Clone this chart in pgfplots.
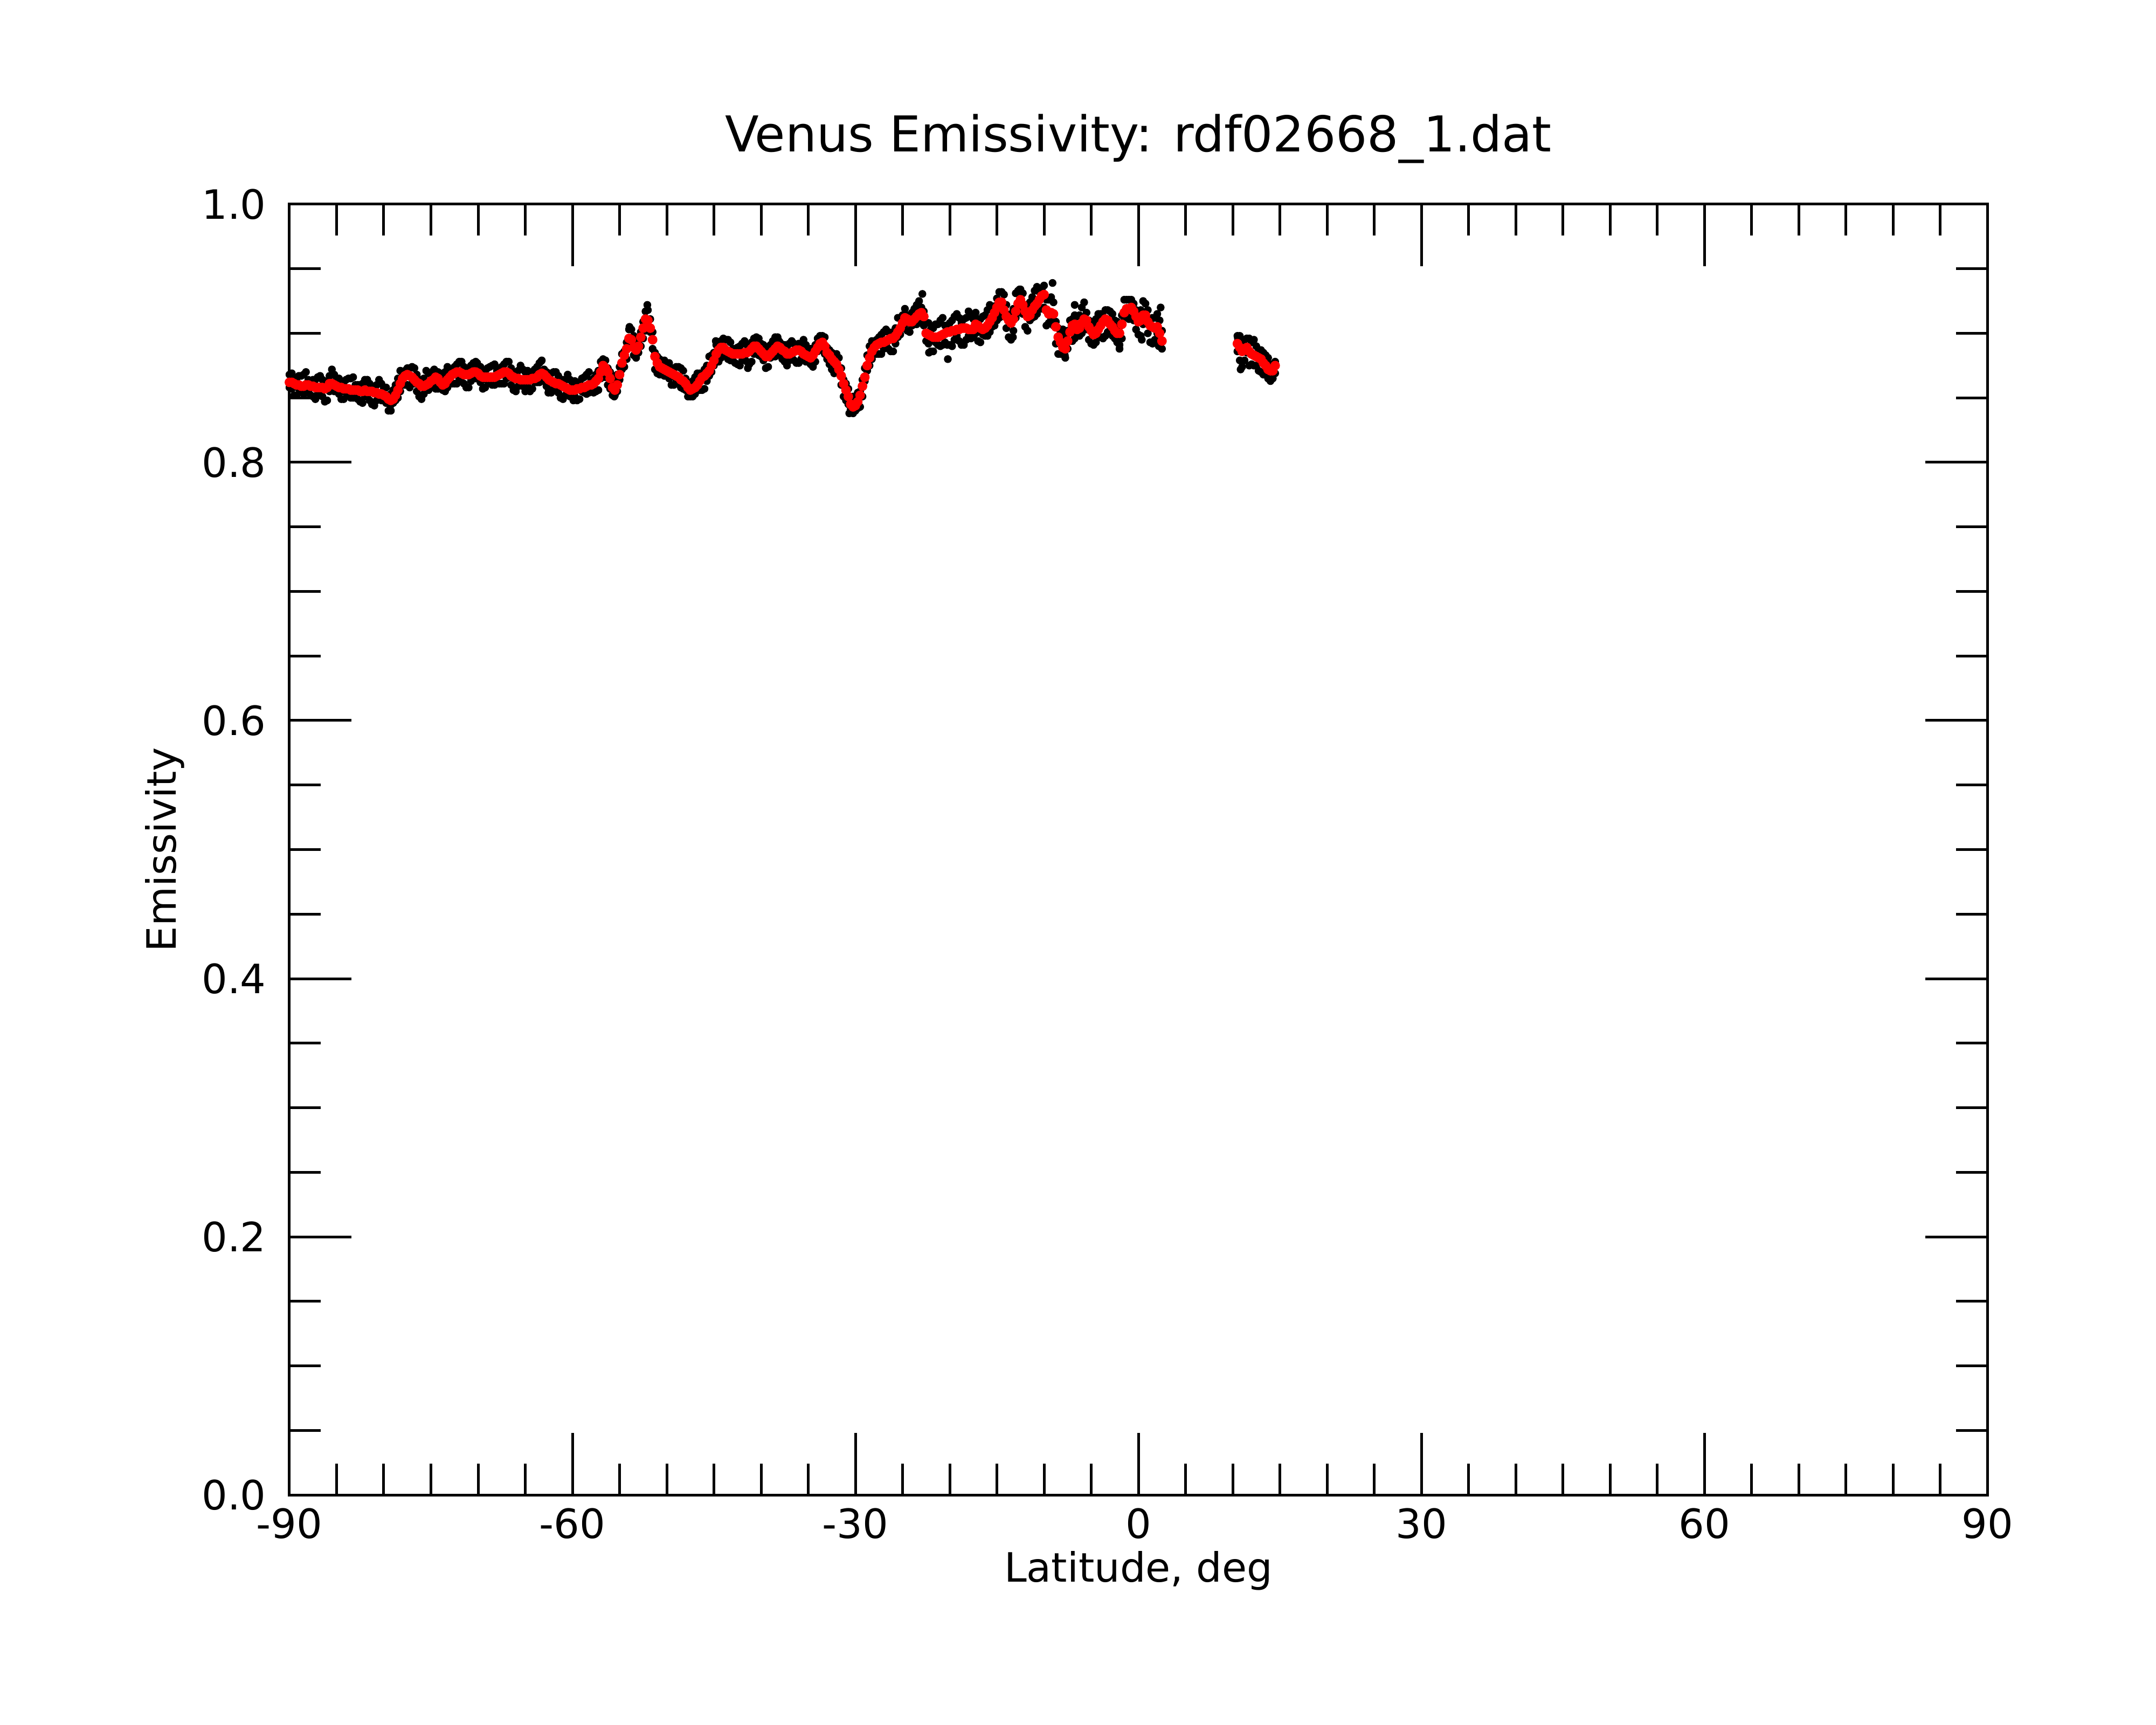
\documentclass[border=0pt]{standalone}
\usepackage{fontspec}
\setmainfont{DejaVu Sans}
\usepackage{pgfplots}
\pgfplotsset{compat=1.18}
\usepackage{pgfplotstable}
\pgfplotstableread{
lat red blk blkb
-90.00 0.862 0.868 0.858
-89.75 0.862 0.857 0.869
-89.50 0.861 0.864 0.852
-89.25 0.860 0.852 0.865
-89.00 0.860 0.867 0.857
-88.75 0.859 0.855 0.867
-88.50 0.859 0.868 0.853
-88.25 0.860 0.854 0.870
-88.00 0.860 0.864 0.855
-87.75 0.859 0.852 0.863
-87.50 0.859 0.864 0.851
-87.25 0.858 0.849 0.864
-87.00 0.858 0.866 0.853
-86.75 0.858 0.855 0.867
-86.50 0.858 0.864 0.851
-86.25 0.857 0.847 0.860
-86.00 0.858 0.863 0.848
-85.75 0.861 0.855 0.867
-85.50 0.861 0.872 0.857
-85.25 0.860 0.855 0.868
-85.00 0.859 0.865 0.855
-84.75 0.858 0.853 0.865
-84.50 0.858 0.861 0.849
-84.25 0.857 0.849 0.862
-84.00 0.857 0.864 0.854
-83.75 0.857 0.853 0.865
-83.50 0.856 0.865 0.850
-83.25 0.856 0.850 0.866
-83.00 0.856 0.860 0.851
-82.75 0.856 0.849 0.860
-82.50 0.855 0.860 0.847
-82.25 0.855 0.846 0.861
-82.00 0.856 0.864 0.851
-81.75 0.855 0.852 0.864
-81.50 0.855 0.861 0.848
-81.25 0.855 0.845 0.858
-81.00 0.854 0.859 0.844
-80.75 0.854 0.848 0.860
-80.50 0.853 0.864 0.849
-80.25 0.853 0.848 0.861
-80.00 0.852 0.858 0.848
-79.75 0.851 0.846 0.858
-79.50 0.849 0.852 0.840
-79.25 0.848 0.840 0.853
-79.00 0.849 0.856 0.846
-78.75 0.852 0.848 0.860
-78.50 0.856 0.865 0.850
-78.25 0.861 0.855 0.871
-78.00 0.865 0.869 0.860
-77.75 0.867 0.860 0.871
-77.50 0.868 0.873 0.860
-77.25 0.867 0.858 0.873
-77.00 0.866 0.874 0.861
-76.75 0.864 0.861 0.873
-76.50 0.862 0.868 0.855
-76.25 0.861 0.851 0.864
-76.00 0.859 0.864 0.849
-75.75 0.859 0.853 0.865
-75.50 0.860 0.871 0.856
-75.25 0.861 0.856 0.869
-75.00 0.863 0.869 0.859
-74.75 0.864 0.859 0.871
-74.50 0.866 0.869 0.857
-74.25 0.865 0.857 0.870
-74.00 0.862 0.869 0.859
-73.75 0.860 0.856 0.868
-73.50 0.861 0.870 0.855
-73.25 0.864 0.858 0.874
-73.00 0.866 0.870 0.861
-72.75 0.868 0.861 0.872
-72.50 0.869 0.874 0.861
-72.25 0.870 0.861 0.876
-72.00 0.870 0.878 0.865
-71.75 0.869 0.866 0.878
-71.50 0.868 0.874 0.861
-71.25 0.868 0.858 0.871
-71.00 0.868 0.873 0.858
-70.75 0.869 0.863 0.875
-70.50 0.870 0.877 0.866
-70.25 0.870 0.865 0.878
-70.00 0.869 0.875 0.865
-69.75 0.867 0.862 0.874
-69.50 0.866 0.869 0.857
-69.25 0.866 0.858 0.871
-69.00 0.866 0.873 0.863
-68.75 0.866 0.862 0.874
-68.50 0.866 0.875 0.860
-68.25 0.866 0.860 0.876
-68.00 0.867 0.871 0.862
-67.75 0.868 0.861 0.872
-67.50 0.869 0.874 0.861
-67.25 0.870 0.861 0.876
-67.00 0.870 0.878 0.865
-66.75 0.869 0.866 0.878
-66.50 0.867 0.873 0.860
-66.25 0.866 0.856 0.869
-66.00 0.865 0.870 0.855
-65.75 0.865 0.859 0.871
-65.50 0.864 0.875 0.860
-65.25 0.864 0.859 0.872
-65.00 0.864 0.870 0.860
-64.75 0.864 0.859 0.871
-64.50 0.864 0.867 0.855
-64.25 0.865 0.857 0.870
-64.00 0.865 0.872 0.862
-63.75 0.866 0.862 0.874
-63.50 0.868 0.877 0.862
-63.25 0.869 0.863 0.879
-63.00 0.868 0.872 0.863
-62.75 0.866 0.859 0.870
-62.50 0.864 0.869 0.856
-62.25 0.863 0.854 0.869
-62.00 0.862 0.870 0.857
-61.75 0.861 0.858 0.870
-61.50 0.861 0.867 0.854
-61.25 0.860 0.850 0.863
-61.00 0.859 0.864 0.849
-60.75 0.858 0.852 0.864
-60.50 0.857 0.868 0.853
-60.25 0.856 0.851 0.864
-60.00 0.856 0.862 0.852
-59.75 0.856 0.851 0.863
-59.50 0.857 0.860 0.848
-59.25 0.857 0.849 0.862
-59.00 0.858 0.865 0.855
-58.75 0.858 0.854 0.866
-58.50 0.859 0.868 0.853
-58.25 0.860 0.854 0.870
-58.00 0.860 0.864 0.855
-57.75 0.861 0.854 0.865
-57.50 0.863 0.868 0.855
-57.25 0.865 0.856 0.871
-57.00 0.870 0.878 0.865
-56.75 0.875 0.872 0.880
-56.50 0.873 0.879 0.866
-56.25 0.870 0.860 0.873
-56.00 0.865 0.870 0.857
-55.75 0.858 0.852 0.864
-55.50 0.856 0.860 0.852
-55.25 0.860 0.855 0.868
-55.00 0.868 0.874 0.864
-54.75 0.877 0.872 0.884
-54.50 0.883 0.886 0.874
-54.25 0.888 0.880 0.893
-54.00 0.896 0.903 0.893
-53.75 0.895 0.891 0.903
-53.50 0.889 0.898 0.883
-53.25 0.887 0.881 0.895
-53.00 0.890 0.894 0.885
-52.75 0.897 0.890 0.901
-52.50 0.904 0.909 0.896
-52.25 0.911 0.902 0.917
-52.00 0.910 0.918 0.905
-51.75 0.904 0.901 0.911
-51.50 0.895 0.901 0.888
-51.25 0.882 0.872 0.885
-51.00 0.877 0.882 0.869
-50.75 0.874 0.868 0.880
-50.50 0.873 0.878 0.869
-50.25 0.872 0.867 0.879
-50.00 0.871 0.877 0.867
-49.75 0.870 0.865 0.877
-49.50 0.869 0.872 0.860
-49.25 0.868 0.860 0.873
-49.00 0.867 0.874 0.864
-48.75 0.866 0.862 0.874
-48.50 0.864 0.873 0.858
-48.25 0.863 0.857 0.871
-48.00 0.861 0.865 0.856
-47.75 0.858 0.851 0.862
-47.50 0.856 0.861 0.851
-47.25 0.857 0.851 0.863
-47.00 0.858 0.866 0.853
-46.75 0.860 0.857 0.869
-46.50 0.863 0.869 0.856
-46.25 0.866 0.856 0.869
-46.00 0.867 0.872 0.857
-45.75 0.869 0.863 0.875
-45.50 0.871 0.882 0.867
-45.25 0.875 0.870 0.883
-45.00 0.879 0.885 0.875
-44.75 0.884 0.879 0.891
-44.50 0.887 0.890 0.878
-44.25 0.889 0.881 0.894
-44.00 0.889 0.896 0.886
-43.75 0.887 0.883 0.895
-43.50 0.886 0.895 0.880
-43.25 0.885 0.879 0.893
-43.00 0.884 0.888 0.879
-42.75 0.884 0.877 0.888
-42.50 0.884 0.889 0.876
-42.25 0.884 0.875 0.890
-42.00 0.884 0.892 0.879
-41.75 0.885 0.882 0.894
-41.50 0.885 0.891 0.878
-41.25 0.886 0.876 0.889
-41.00 0.888 0.893 0.878
-40.75 0.890 0.884 0.896
-40.50 0.890 0.897 0.886
-40.25 0.888 0.883 0.896
-40.00 0.886 0.892 0.882
-39.75 0.884 0.879 0.891
-39.50 0.882 0.885 0.873
-39.25 0.882 0.874 0.887
-39.00 0.884 0.891 0.881
-38.75 0.886 0.882 0.894
-38.50 0.888 0.897 0.882
-38.25 0.890 0.884 0.897
-38.00 0.889 0.893 0.884
-37.75 0.887 0.880 0.891
-37.50 0.886 0.891 0.878
-37.25 0.884 0.875 0.890
-37.00 0.884 0.892 0.879
-36.75 0.885 0.882 0.894
-36.50 0.886 0.892 0.879
-36.25 0.887 0.877 0.890
-36.00 0.887 0.892 0.877
-35.75 0.886 0.880 0.892
-35.50 0.884 0.895 0.880
-35.25 0.883 0.878 0.891
-35.00 0.882 0.888 0.878
-34.75 0.881 0.876 0.888
-34.50 0.883 0.886 0.874
-34.25 0.886 0.878 0.891
-34.00 0.889 0.896 0.886
-33.75 0.892 0.888 0.898
-33.50 0.893 0.898 0.887
-33.25 0.890 0.884 0.897
-33.00 0.885 0.889 0.880
-32.75 0.883 0.876 0.887
-32.50 0.880 0.885 0.872
-32.25 0.878 0.869 0.884
-32.00 0.876 0.884 0.871
-31.75 0.872 0.869 0.881
-31.50 0.867 0.873 0.860
-31.25 0.861 0.851 0.864
-31.00 0.856 0.861 0.848
-30.75 0.851 0.845 0.857
-30.50 0.845 0.849 0.841
-30.25 0.843 0.838 0.851
-30.00 0.844 0.850 0.840
-29.75 0.847 0.842 0.854
-29.50 0.852 0.855 0.843
-29.25 0.859 0.851 0.864
-29.00 0.866 0.873 0.863
-28.75 0.875 0.871 0.883
-28.50 0.881 0.890 0.875
-28.25 0.886 0.880 0.894
-28.00 0.889 0.893 0.884
-27.75 0.891 0.884 0.895
-27.50 0.892 0.897 0.884
-27.25 0.893 0.884 0.899
-27.00 0.893 0.901 0.888
-26.75 0.894 0.891 0.903
-26.50 0.895 0.901 0.888
-26.25 0.896 0.886 0.899
-26.00 0.896 0.901 0.886
-25.75 0.898 0.892 0.904
-25.50 0.901 0.912 0.897
-25.25 0.904 0.899 0.912
-25.00 0.908 0.914 0.904
-24.75 0.912 0.907 0.919
-24.50 0.911 0.914 0.902
-24.25 0.909 0.901 0.914
-24.00 0.909 0.916 0.906
-23.75 0.911 0.907 0.919
-23.50 0.913 0.922 0.907
-23.25 0.915 0.909 0.925
-23.00 0.916 0.920 0.911
-22.75 0.913 0.906 0.917
-22.50 0.900 0.908 0.894
-22.25 0.899 0.892 0.908
-22.00 0.898 0.903 0.886
-21.75 0.897 0.886 0.904
-21.50 0.897 0.907 0.893
-21.25 0.897 0.891 0.907
-21.00 0.898 0.910 0.890
-20.75 0.899 0.891 0.912
-20.50 0.900 0.906 0.893
-20.25 0.901 0.891 0.906
-20.00 0.901 0.908 0.891
-19.75 0.902 0.890 0.910
-19.50 0.902 0.913 0.895
-19.25 0.903 0.898 0.915
-19.00 0.903 0.912 0.894
-18.75 0.904 0.891 0.908
-18.50 0.904 0.911 0.891
-18.25 0.904 0.895 0.912
-18.00 0.903 0.917 0.898
-17.75 0.903 0.896 0.913
-17.50 0.903 0.911 0.897
-17.25 0.907 0.900 0.916
-17.00 0.906 0.911 0.894
-16.75 0.904 0.893 0.911
-16.50 0.903 0.913 0.899
-16.25 0.904 0.898 0.914
-16.00 0.906 0.918 0.898
-15.75 0.909 0.901 0.922
-15.50 0.912 0.918 0.905
-15.25 0.916 0.906 0.921
-15.00 0.920 0.927 0.910
-14.75 0.924 0.912 0.932
-14.50 0.924 0.932 0.917
-14.25 0.918 0.913 0.930
-14.00 0.913 0.922 0.904
-13.75 0.910 0.897 0.914
-13.50 0.908 0.915 0.895
-13.25 0.911 0.902 0.919
-13.00 0.917 0.931 0.912
-12.75 0.923 0.916 0.933
-12.50 0.926 0.934 0.920
-12.25 0.922 0.915 0.931
-12.00 0.917 0.922 0.905
-11.75 0.913 0.902 0.920
-11.50 0.914 0.924 0.910
-11.25 0.918 0.912 0.928
-11.00 0.921 0.933 0.913
-10.75 0.923 0.915 0.936
-10.50 0.926 0.932 0.919
-10.25 0.929 0.919 0.934
-10.00 0.930 0.937 0.920
-9.75 0.918 0.906 0.926
-9.50 0.915 0.926 0.908
-9.25 0.916 0.911 0.928
-9.00 0.915 0.924 0.906
-8.75 0.905 0.892 0.909
-8.50 0.897 0.904 0.884
-8.25 0.893 0.884 0.901
-8.00 0.889 0.903 0.884
-7.75 0.888 0.881 0.898
-7.50 0.894 0.902 0.888
-7.25 0.901 0.894 0.910
-7.00 0.906 0.911 0.894
-6.75 0.907 0.896 0.914
-6.50 0.903 0.913 0.899
-6.25 0.904 0.898 0.914
-6.00 0.908 0.920 0.900
-5.75 0.911 0.903 0.924
-5.50 0.910 0.916 0.903
-5.25 0.905 0.895 0.910
-5.00 0.902 0.909 0.892
-4.75 0.899 0.891 0.907
-4.50 0.900 0.911 0.893
-4.25 0.903 0.898 0.915
-4.00 0.906 0.915 0.897
-3.75 0.909 0.896 0.913
-3.50 0.911 0.918 0.898
-3.25 0.910 0.901 0.918
-3.00 0.907 0.917 0.902
-2.75 0.905 0.898 0.915
-2.50 0.902 0.910 0.896
-2.25 0.900 0.893 0.909
-2.00 0.900 0.905 0.888
-1.75 0.907 0.896 0.914
-1.50 0.916 0.926 0.912
-1.25 0.919 0.913 0.926
-1.00 0.919 0.926 0.911
-0.75 0.920 0.912 0.926
-0.50 0.917 0.923 0.910
-0.25 0.913 0.903 0.918
0.00 0.909 0.916 0.899
0.25 0.910 0.898 0.918
0.50 0.914 0.925 0.907
0.75 0.914 0.909 0.923
1.00 0.909 0.918 0.900
1.25 0.906 0.893 0.910
1.50 0.905 0.912 0.892
1.75 0.904 0.895 0.912
2.00 0.905 0.915 0.900
2.25 0.900 0.893 0.910
2.50 0.894 0.902 0.888
10.50 0.892 0.898 0.886
10.75 0.889 0.879 0.898
11.00 0.886 0.894 0.874
11.25 0.888 0.879 0.895
11.50 0.889 0.896 0.885
11.75 0.886 0.875 0.896
12.00 0.884 0.893 0.876
12.25 0.883 0.875 0.895
12.50 0.882 0.890 0.875
12.75 0.881 0.871 0.886
13.00 0.880 0.887 0.870
13.25 0.877 0.868 0.885
13.50 0.875 0.883 0.868
13.75 0.872 0.865 0.881
14.00 0.871 0.876 0.863
14.25 0.871 0.865 0.875
14.50 0.875 0.878 0.869
}\emisdata
\begin{document}
\begin{tikzpicture}
\useasboundingbox (-96.66pt,-76.68pt) rectangle (623.34pt,499.32pt);
\begin{axis}[
  at={(0pt,0pt)}, anchor=south west,
  scale only axis,
  width=567pt, height=431.1pt,
  xmin=-90, xmax=90, ymin=0, ymax=1,
  xtick={-90,-60,-30,0,30,60,90},
  xticklabels={-90,-60,-30,0,30,60,90},
  ytick={0,0.2,0.4,0.6,0.8,1},
  yticklabels={0.0,0.2,0.4,0.6,0.8,1.0},
  minor x tick num=5,
  minor y tick num=3,
  tick align=inside,
  xtick pos=both, ytick pos=both,
  xticklabel pos=lower, yticklabel pos=left,
  major tick length=20.7pt,
  minor tick length=10.4pt,
  tick style={line width=0.9pt, black},
  axis line style={line width=0.9pt},
  tick label style={font=\fontsize{13.5}{16}\selectfont},
  xticklabel style={inner sep=0pt, yshift=-4.3pt},
  yticklabel style={inner sep=0pt, xshift=-7.6pt},
  title={Venus Emissivity: rdf02668\_1.dat},
  title style={at={(axis description cs:0.5,1)}, anchor=base, yshift=11.5pt, inner sep=0pt, font=\fontsize{16.5}{20}\selectfont},
  xlabel={Latitude, deg},
  xlabel style={at={(axis description cs:0.5,0)}, anchor=base, yshift=-29pt, inner sep=0pt, font=\fontsize{13.5}{16}\selectfont},
  ylabel={Emissivity},
  ylabel style={at={(axis description cs:0,0.5)}, anchor=base, yshift=37.8pt, inner sep=0pt, font=\fontsize{13.5}{16}\selectfont},
]
\addplot[only marks, mark=*, mark size=1.1pt, black] table[x=lat, y=blk] {\emisdata};
\addplot[only marks, mark=*, mark size=1.1pt, black] table[x=lat, y=blkb] {\emisdata};
\addplot[only marks, mark=*, mark size=1.1pt, black] coordinates {
(-79.3,0.844) (-74.65,0.872) (-70.1,0.877) (-65.0,0.855) (-63.3,0.8785)
(-62.55,0.854) (-59.9,0.848) (-55.56,0.851) (-53.95,0.905) (-52.06,0.922)
(-44.8,0.894) (-41.4,0.873) (-38.1,0.894) (-30.65,0.838) (-22.9,0.9305)
(-22.2,0.885) (-20.2,0.880) (-14.5,0.932) (-13.3,0.897) (-12.6,0.934)
(-9.1,0.939) (-7.8,0.883) (-6.75,0.922) (-2.0,0.891) (0.36,0.895)
(2.17,0.890) (2.36,0.920) (10.55,0.896) (10.84,0.872) (11.5,0.896) (14.0,0.864)
};
\addplot[only marks, mark=*, mark size=1.4pt, red, mark options={draw=red, fill=red}] table[x=lat, y=red] {\emisdata};
\end{axis}
\end{tikzpicture}
\end{document}
